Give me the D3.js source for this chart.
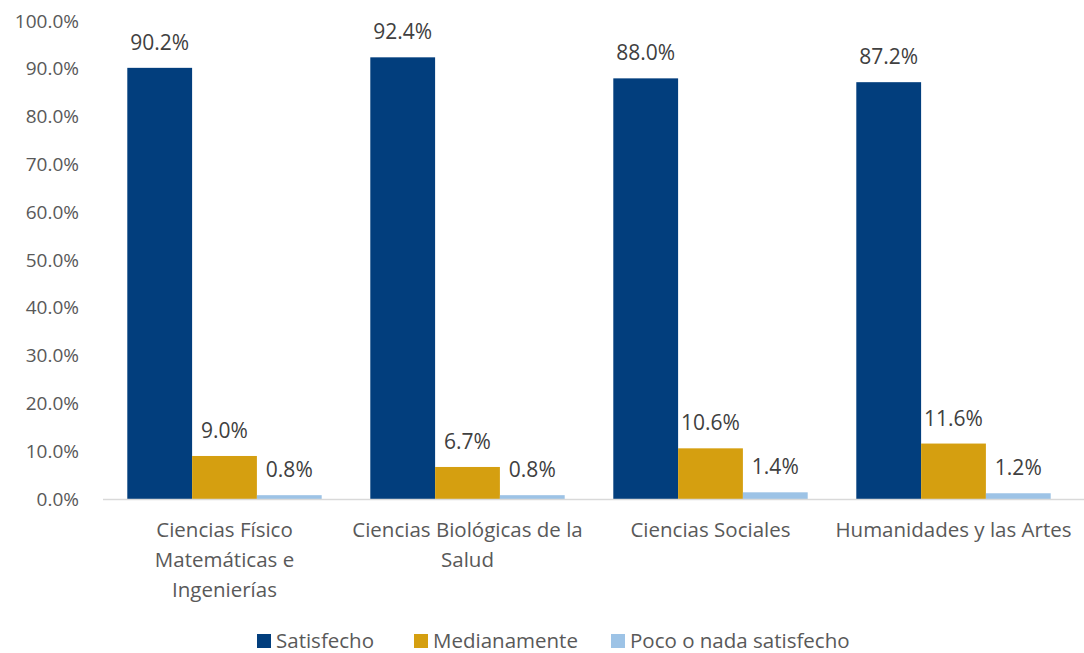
<html>
<head>
<meta charset="utf-8">
<style>
  body { margin: 0; background: white; }
  text { font-family: "Open Sans", "Noto Sans", sans-serif; }
</style>
</head>
<body>
<script src="https://d3js.org/d3.v7.min.js"></script>
<script>

var categories = [
  ["Ciencias Físico", "Matemáticas e", "Ingenierías"],
  ["Ciencias Biológicas de la", "Salud"],
  ["Ciencias Sociales"],
  ["Humanidades y las Artes"]
];
var series = ["Satisfecho", "Medianamente", "Poco o nada satisfecho"];
var satisfecho = [90.2, 92.4, 88.0, 87.2];
var medianamente = [9.0, 6.7, 10.6, 11.6];
var poco = [0.8, 0.8, 1.4, 1.2];
var yTicks = [0, 10, 20, 30, 40, 50, 60, 70, 80, 90, 100];
var colors = ["#023e7d", "#d59f10", "#9dc3e6"];

var width = 1084, height = 653;
var plotLeft = 103, plotRight = 1075, plotTop = 21, plotBottom = 499;
var fontFam = "'Open Sans', 'Noto Sans', sans-serif";

var values = [satisfecho, medianamente, poco];
var data = categories.map(function(c, i) {
  return { idx: i, vals: values.map(function(v, s) { return { s: s, v: v[i] }; }) };
});

var svg = d3.select("body").append("svg")
  .attr("width", width)
  .attr("height", height);

var x0 = d3.scaleBand().domain(d3.range(categories.length)).range([plotLeft, plotRight]).paddingInner(0.2).paddingOuter(0.1);
var x1 = d3.scaleBand().domain(d3.range(series.length)).range([0, x0.bandwidth()]);
var y = d3.scaleLinear().domain([0, 100]).range([plotBottom, plotTop]);

// y axis labels (no line)
var yAxis = svg.append("g")
  .attr("transform", "translate(" + (plotLeft - 21) + ",0)")
  .call(d3.axisLeft(y).tickValues(yTicks).tickSize(0).tickFormat(function(d) { return d.toFixed(1) + "%"; }));
yAxis.select(".domain").remove();
yAxis.selectAll("text")
  .style("font-family", fontFam)
  .style("font-size", "19px")
  .attr("fill", "#595959");

// bars
var groups = svg.append("g").selectAll("g").data(data).enter().append("g")
  .attr("transform", function(d) { return "translate(" + x0(d.idx) + ",0)"; });

groups.selectAll("rect").data(function(d) { return d.vals; }).enter().append("rect")
  .attr("x", function(d) { return x1(d.s); })
  .attr("y", function(d) { return y(d.v); })
  .attr("width", x1.bandwidth())
  .attr("height", function(d) { return y(0) - y(d.v); })
  .attr("fill", function(d) { return colors[d.s]; });

groups.selectAll("text").data(function(d) { return d.vals; }).enter().append("text")
  .attr("x", function(d) { return x1(d.s) + x1.bandwidth() / 2; })
  .attr("y", function(d) { return y(d.v) - 18; })
  .attr("text-anchor", "middle")
  .style("font-size", "21px")
  .attr("fill", "#404040")
  .text(function(d) { return d.v.toFixed(1) + "%"; });

// x axis line
svg.append("line")
  .attr("x1", plotLeft).attr("x2", 1084)
  .attr("y1", y(0) + 0.5).attr("y2", y(0) + 0.5)
  .attr("stroke", "#d9d9d9").attr("stroke-width", 1.5);

// category labels
var catLabels = svg.append("g").selectAll("text").data(categories).enter().append("text")
  .attr("text-anchor", "middle")
  .attr("x", function(d, i) { return x0(i) + x0.bandwidth() / 2; })
  .attr("y", 537)
  .style("font-size", "20.5px")
  .attr("fill", "#595959");
catLabels.selectAll("tspan").data(function(d) { return d; }).enter().append("tspan")
  .attr("x", function() { return this.parentNode.getAttribute("x"); })
  .attr("dy", function(d, i) { return i == 0 ? 0 : 30; })
  .text(function(d) { return d; });

// legend
var legendX = [257, 414, 611];
var legend = svg.append("g").selectAll("g").data(series).enter().append("g")
  .attr("transform", function(d, i) { return "translate(" + legendX[i] + ",634)"; });
legend.append("rect")
  .attr("width", 14).attr("height", 14)
  .attr("fill", function(d, i) { return colors[i]; });
legend.append("text")
  .attr("x", 19).attr("y", 14)
  .style("font-size", "20.5px")
  .attr("fill", "#595959")
  .text(function(d) { return d; });

</script>
</body>
</html>
